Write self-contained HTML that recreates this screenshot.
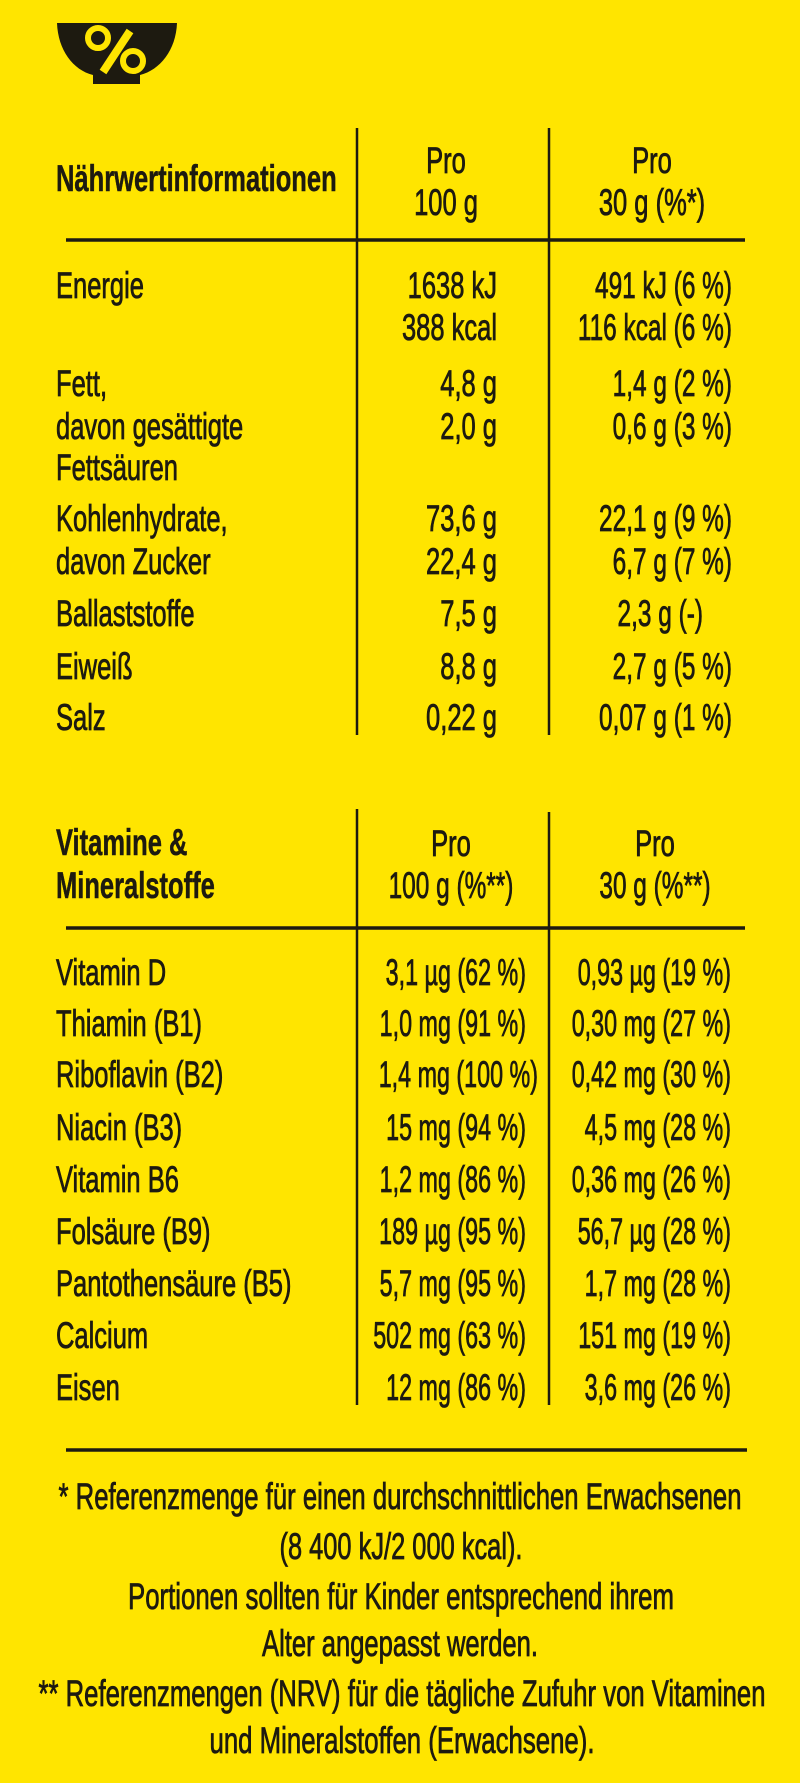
<!DOCTYPE html>
<html><head><meta charset="utf-8"><style>
html,body{margin:0;padding:0;background:#FFE500;}
svg{display:block;}
text{font-family:"Liberation Sans",sans-serif;font-size:37px;fill:#1d1a10;stroke:#1d1a10;stroke-width:0.8px;}
.b{font-weight:bold;stroke-width:0.5px;}
</style></head><body>
<svg width="800" height="1783" viewBox="0 0 800 1783" xmlns="http://www.w3.org/2000/svg">
<rect width="800" height="1783" fill="#FFE500"/>
<path d="M57 23 H177 C176 50 160 70 140 75 V84 H93 V75 C73 70 58 50 57 23 Z" fill="#1d1a10"/>
<circle cx="98" cy="38" r="10" fill="none" stroke="#FFE500" stroke-width="6"/>
<circle cx="133" cy="61" r="10" fill="none" stroke="#FFE500" stroke-width="6"/>
<line x1="130" y1="31" x2="103" y2="72" stroke="#FFE500" stroke-width="8"/>

<line x1="357" y1="128" x2="357" y2="735" stroke="#1d1a10" stroke-width="2.5"/>
<line x1="549" y1="128" x2="549" y2="735" stroke="#1d1a10" stroke-width="2.5"/>
<line x1="66" y1="240" x2="745" y2="240" stroke="#1d1a10" stroke-width="3.5"/>

<g>
<text class="b" transform="translate(56,191) scale(0.69,1)">Nährwertinformationen</text>
<text text-anchor="middle" transform="translate(446,173) scale(0.69,1)">Pro</text>
<text text-anchor="middle" transform="translate(446,215) scale(0.69,1)">100 g</text>
<text text-anchor="middle" transform="translate(652,173) scale(0.69,1)">Pro</text>
<text text-anchor="middle" transform="translate(652,215) scale(0.69,1)">30 g (%*)</text>

<text transform="translate(56,298) scale(0.69,1)">Energie</text>
<text text-anchor="end" transform="translate(497,298) scale(0.69,1)">1638 kJ</text>
<text text-anchor="end" transform="translate(732,298) scale(0.66,1)">491 kJ (6 %)</text>
<text text-anchor="end" transform="translate(497,340) scale(0.69,1)">388 kcal</text>
<text text-anchor="end" transform="translate(732,340) scale(0.66,1)">116 kcal (6 %)</text>

<text transform="translate(56,396) scale(0.69,1)">Fett,</text>
<text text-anchor="end" transform="translate(497,396) scale(0.69,1)">4,8 g</text>
<text text-anchor="end" transform="translate(732,396) scale(0.66,1)">1,4 g (2 %)</text>
<text transform="translate(56,439) scale(0.69,1)">davon gesättigte</text>
<text text-anchor="end" transform="translate(497,439) scale(0.69,1)">2,0 g</text>
<text text-anchor="end" transform="translate(732,439) scale(0.66,1)">0,6 g (3 %)</text>
<text transform="translate(56,480) scale(0.69,1)">Fettsäuren</text>

<text transform="translate(56,531) scale(0.69,1)">Kohlenhydrate,</text>
<text text-anchor="end" transform="translate(497,531) scale(0.69,1)">73,6 g</text>
<text text-anchor="end" transform="translate(732,531) scale(0.66,1)">22,1 g (9 %)</text>
<text transform="translate(56,574) scale(0.69,1)">davon Zucker</text>
<text text-anchor="end" transform="translate(497,574) scale(0.69,1)">22,4 g</text>
<text text-anchor="end" transform="translate(732,574) scale(0.66,1)">6,7 g (7 %)</text>

<text transform="translate(56,626) scale(0.69,1)">Ballaststoffe</text>
<text text-anchor="end" transform="translate(497,626) scale(0.69,1)">7,5 g</text>
<text text-anchor="end" transform="translate(703,626) scale(0.66,1)">2,3 g (-)</text>

<text transform="translate(56,679) scale(0.69,1)">Eiweiß</text>
<text text-anchor="end" transform="translate(497,679) scale(0.69,1)">8,8 g</text>
<text text-anchor="end" transform="translate(732,679) scale(0.66,1)">2,7 g (5 %)</text>

<text transform="translate(56,730) scale(0.69,1)">Salz</text>
<text text-anchor="end" transform="translate(497,730) scale(0.69,1)">0,22 g</text>
<text text-anchor="end" transform="translate(732,730) scale(0.66,1)">0,07 g (1 %)</text>
</g>

<line x1="357" y1="809" x2="357" y2="1405" stroke="#1d1a10" stroke-width="2.5"/>
<line x1="549" y1="812" x2="549" y2="1405" stroke="#1d1a10" stroke-width="2.5"/>
<line x1="66" y1="928" x2="745" y2="928" stroke="#1d1a10" stroke-width="3.5"/>

<g>
<text class="b" transform="translate(56,855) scale(0.69,1)">Vitamine &amp;</text>
<text class="b" transform="translate(56,898) scale(0.69,1)">Mineralstoffe</text>
<text text-anchor="middle" transform="translate(451,856) scale(0.69,1)">Pro</text>
<text text-anchor="middle" transform="translate(451,898) scale(0.66,1)">100 g (%**)</text>
<text text-anchor="middle" transform="translate(655,856) scale(0.69,1)">Pro</text>
<text text-anchor="middle" transform="translate(655,898) scale(0.66,1)">30 g (%**)</text>

<text transform="translate(56,985) scale(0.69,1)">Vitamin D</text>
<text text-anchor="end" transform="translate(526,985) scale(0.63,1)">3,1 µg (62 %)</text>
<text text-anchor="end" transform="translate(731,985) scale(0.63,1)">0,93 µg (19 %)</text>

<text transform="translate(56,1036) scale(0.69,1)">Thiamin (B1)</text>
<text text-anchor="end" transform="translate(526,1036) scale(0.63,1)">1,0 mg (91 %)</text>
<text text-anchor="end" transform="translate(731,1036) scale(0.63,1)">0,30 mg (27 %)</text>

<text transform="translate(56,1087) scale(0.69,1)">Riboflavin (B2)</text>
<text text-anchor="end" transform="translate(538,1087) scale(0.63,1)">1,4 mg (100 %)</text>
<text text-anchor="end" transform="translate(731,1087) scale(0.63,1)">0,42 mg (30 %)</text>

<text transform="translate(56,1140) scale(0.69,1)">Niacin (B3)</text>
<text text-anchor="end" transform="translate(526,1140) scale(0.63,1)">15 mg (94 %)</text>
<text text-anchor="end" transform="translate(731,1140) scale(0.63,1)">4,5 mg (28 %)</text>

<text transform="translate(56,1192) scale(0.69,1)">Vitamin B6</text>
<text text-anchor="end" transform="translate(526,1192) scale(0.63,1)">1,2 mg (86 %)</text>
<text text-anchor="end" transform="translate(731,1192) scale(0.63,1)">0,36 mg (26 %)</text>

<text transform="translate(56,1244) scale(0.69,1)">Folsäure (B9)</text>
<text text-anchor="end" transform="translate(526,1244) scale(0.63,1)">189 µg (95 %)</text>
<text text-anchor="end" transform="translate(731,1244) scale(0.63,1)">56,7 µg (28 %)</text>

<text transform="translate(56,1296) scale(0.69,1)">Pantothensäure (B5)</text>
<text text-anchor="end" transform="translate(526,1296) scale(0.63,1)">5,7 mg (95 %)</text>
<text text-anchor="end" transform="translate(731,1296) scale(0.63,1)">1,7 mg (28 %)</text>

<text transform="translate(56,1348) scale(0.69,1)">Calcium</text>
<text text-anchor="end" transform="translate(526,1348) scale(0.63,1)">502 mg (63 %)</text>
<text text-anchor="end" transform="translate(731,1348) scale(0.63,1)">151 mg (19 %)</text>

<text transform="translate(56,1400) scale(0.69,1)">Eisen</text>
<text text-anchor="end" transform="translate(526,1400) scale(0.63,1)">12 mg (86 %)</text>
<text text-anchor="end" transform="translate(731,1400) scale(0.63,1)">3,6 mg (26 %)</text>
</g>

<line x1="66" y1="1450" x2="747" y2="1450" stroke="#1d1a10" stroke-width="3.5"/>

<text text-anchor="middle" x="400" y="1509" textLength="683" lengthAdjust="spacingAndGlyphs">* Referenzmenge für einen durchschnittlichen Erwachsenen</text>
<text text-anchor="middle" x="401" y="1559" textLength="243" lengthAdjust="spacingAndGlyphs">(8 400 kJ/2 000 kcal).</text>
<text text-anchor="middle" x="401" y="1609" textLength="546" lengthAdjust="spacingAndGlyphs">Portionen sollten für Kinder entsprechend ihrem</text>
<text text-anchor="middle" x="400" y="1656" textLength="276" lengthAdjust="spacingAndGlyphs">Alter angepasst werden.</text>
<text text-anchor="middle" x="402" y="1706" textLength="727" lengthAdjust="spacingAndGlyphs">** Referenzmengen (NRV) für die tägliche Zufuhr von Vitaminen</text>
<text text-anchor="middle" x="402" y="1753" textLength="385" lengthAdjust="spacingAndGlyphs">und Mineralstoffen (Erwachsene).</text>
</svg>
</body></html>
